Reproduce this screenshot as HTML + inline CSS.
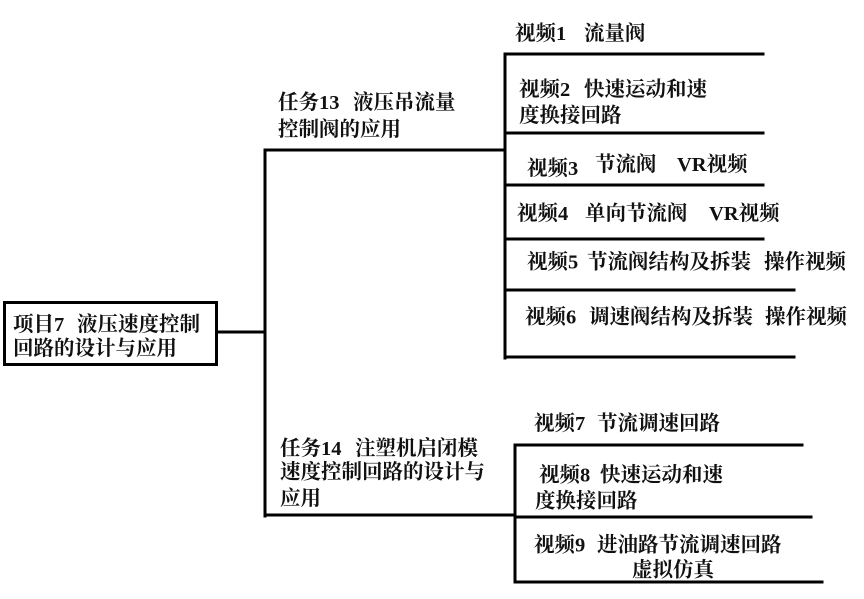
<!DOCTYPE html>
<html>
<head>
<meta charset="utf-8">
<style>
html,body{margin:0;padding:0;background:#fff;}
svg{display:block;}
text{font-family:"Liberation Serif","Noto Serif CJK SC",serif;font-weight:bold;font-size:20.5px;fill:#111;}
</style>
</head>
<body>
<svg width="864" height="599" viewBox="0 0 864 599" xmlns="http://www.w3.org/2000/svg">
<rect x="0" y="0" width="864" height="599" fill="#fff"/>
<g stroke="#000" stroke-width="3" fill="none" stroke-linecap="square">
  <rect x="4.5" y="302.5" width="212" height="62"/>
  <line x1="218" y1="332" x2="265" y2="332"/>
  <line x1="265" y1="150" x2="265" y2="516"/>
  <line x1="265" y1="150" x2="505" y2="150"/>
  <line x1="265" y1="515" x2="514" y2="515"/>
  <line x1="505" y1="54" x2="505" y2="358"/>
  <line x1="505" y1="54" x2="763" y2="54"/>
  <line x1="505" y1="133" x2="763" y2="133"/>
  <line x1="505" y1="185" x2="763" y2="185"/>
  <line x1="505" y1="239" x2="763" y2="239"/>
  <line x1="505" y1="290" x2="794" y2="290"/>
  <line x1="505" y1="357" x2="794" y2="357"/>
  <line x1="515" y1="445" x2="515" y2="582"/>
  <line x1="515" y1="445" x2="802" y2="445"/>
  <line x1="515" y1="517" x2="811" y2="517"/>
  <line x1="515" y1="582" x2="822" y2="582"/>
</g>
<text x="515" y="40">视频1</text><text x="584" y="40">流量阀</text>
<text x="519" y="96">视频2</text><text x="584" y="96">快速运动和速</text>
<text x="519" y="122">度换接回路</text>
<text x="527" y="175">视频3</text><text x="595" y="171">节流阀</text><text x="677" y="171">VR视频</text>
<text x="517" y="220">视频4</text><text x="585" y="220">单向节流阀</text><text x="709" y="220">VR视频</text>
<text x="527" y="268.5">视频5</text><text x="587" y="268.5">节流阀结构及拆装</text><text x="764" y="268.5">操作视频</text>
<text x="525" y="323.5">视频6</text><text x="589" y="323.5">调速阀结构及拆装</text><text x="765" y="323.5">操作视频</text>
<text x="534" y="430">视频7</text><text x="597" y="430">节流调速回路</text>
<text x="539" y="481.5">视频8</text><text x="600" y="481.5">快速运动和速</text>
<text x="535" y="507.5">度换接回路</text>
<text x="534" y="551.5">视频9</text><text x="597" y="551.5">进油路节流调速回路</text>
<text x="632" y="576.5">虚拟仿真</text>
<text x="278" y="109">任务13</text><text x="353" y="109">液压吊流量</text>
<text x="278" y="136">控制阀的应用</text>
<text x="13" y="331">项目7</text><text x="77" y="331">液压速度控制</text>
<text x="13" y="355">回路的设计与应用</text>
<text x="280" y="455">任务14</text><text x="355" y="455">注塑机启闭模</text>
<text x="280" y="478.5">速度控制回路的设计与</text>
<text x="280" y="505">应用</text>
</svg>
</body>
</html>
